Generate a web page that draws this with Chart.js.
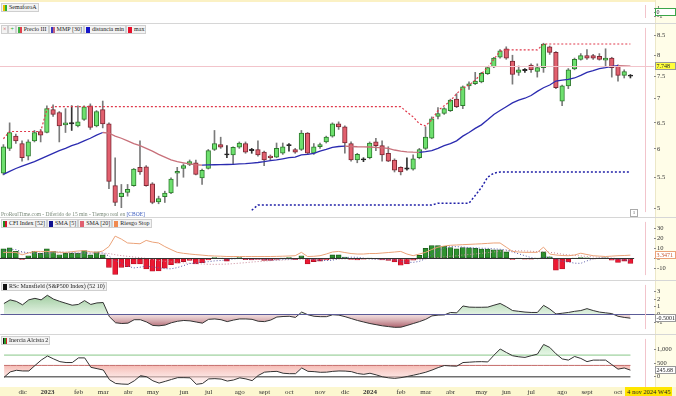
<!DOCTYPE html>
<html>
<head>
<meta charset="utf-8">
<script src="https://cdn.jsdelivr.net/npm/chart.js@4.4.1/dist/chart.umd.min.js"></script>
<style>
  body { margin: 0; width: 676px; height: 396px; overflow: hidden; background: #fff; position: relative; font-family: "Liberation Serif", serif; }
  canvas { position: absolute; left: 0; }
  .axiscol { position: absolute; left: 655px; top: 0; width: 21px; height: 396px; background: #fffde8; border-left: 1px solid #ece7c8; box-sizing: border-box; }
  .xstrip { position: absolute; left: 0; top: 387px; width: 676px; height: 9px; background: #fcf7d0; }
  .topstrip { position: absolute; left: 0; top: 0; width: 676px; height: 2px; background: #fbf1c4; }
  .sep { position: absolute; left: 0; width: 676px; height: 1px; background: #d6d6d6; }
  .legend { position: absolute; left: 1px; display: flex; gap: 0px; font-size: 6px; line-height: 7px; color: #222; }
  .legend span { border: 1px solid #cfcfcf; background: #f3f3f3; padding: 0 1px 0 1px; display: flex; align-items: center; white-space: nowrap; }
  .legend i { display: inline-block; width: 4px; height: 6px; margin-right: 2px; }
  .note { position: absolute; white-space: nowrap; }
</style>
</head>
<body>
<div class="topstrip"></div>
<div class="axiscol"></div>
<div class="xstrip"></div>
<div class="sep" style="top:23px"></div>
<div class="sep" style="top:217px"></div>
<div class="sep" style="top:280px"></div>
<div class="sep" style="top:334px"></div>

<canvas id="cSem" width="676" height="23" style="top:0px"></canvas>
<canvas id="cPrice" width="676" height="194" style="top:23px"></canvas>
<canvas id="cCfi" width="676" height="63" style="top:217px"></canvas>
<canvas id="cRsc" width="676" height="54" style="top:280px"></canvas>
<canvas id="cIner" width="676" height="62" style="top:334px"></canvas>

<div class="legend" style="top:3px"><span><i style="background:linear-gradient(90deg,#e8c000 50%,#30b030 50%)"></i>SemaforoA</span></div>
<div class="legend" style="top:25px">
  <span style="color:#c33">×</span><span style="color:#2a2">+</span>
  <span><i style="background:linear-gradient(90deg,#3cb043 50%,#e0404c 50%)"></i>Precio III</span>
  <span><i style="background:linear-gradient(90deg,#3434c0 50%,#c06080 50%)"></i>MMP [30]</span>
  <span><i style="background:#1616c8"></i>distancia min</span>
  <span><i style="background:#e8102c"></i>max</span>
</div>
<div class="note" style="left:1px;top:211px;font-size:5.5px;color:#7a8a7a">ProRealTime.com - Diferido de 15 min - Tiempo real en <span style="color:#4060c0">[CBOE]</span></div>
<div class="note" style="left:630px;top:209px;width:6px;height:6px;border:1px solid #aaa;font-size:5px;line-height:6px;text-align:center;color:#555">1</div>
<div class="legend" style="top:219px">
  <span><i style="background:linear-gradient(90deg,#1f8a1f 50%,#d8102a 50%)"></i>CFI Index [52]</span>
  <span><i style="background:#101090"></i>SMA [5]</span>
  <span><i style="background:#e06070"></i>SMA [20]</span>
  <span><i style="background:#f08a50"></i>Riesgo Stop</span>
</div>
<div class="legend" style="top:282px"><span><i style="background:#111"></i>RSc Mansfield (S&amp;P500 Index) (52 10)</span></div>
<div class="legend" style="top:336px"><span><i style="background:linear-gradient(90deg,#111 33%,#2a9a2a 33% 66%,#d02020 66%)"></i>Inercia Alcista 2</span></div>
<div class="note" style="left:625px;top:387px;height:9px;padding:0 2px;background:#ffe600;font-size:6.5px;line-height:9px;color:#222">4 nov 2024 W45</div>

<script>
// weekly candles, nov 2022 - oct 2024
const open = [
  5.57, 6.01, 6.24, 6.10, 5.87, 6.15, 6.33, 6.31, 6.77, 6.71,
  6.46, 6.48, 6.44, 6.57, 6.85, 6.44, 6.77, 6.48, 5.36, 5.18,
  5.25, 5.36, 5.67, 5.68, 5.39, 5.10, 5.18, 5.24, 5.57, 5.65,
  5.72, 5.75, 5.49, 5.65, 5.99, 6.08, 5.89, 5.89, 6.03, 6.10,
  5.97, 5.99, 5.94, 5.87, 5.85, 5.92, 6.06, 5.99, 5.99, 6.30,
  5.92, 6.04, 6.13, 6.24, 6.48, 6.42, 6.10, 5.80, 5.80, 5.84,
  6.13, 6.06, 5.92, 5.80, 5.67, 5.64, 5.64, 5.84, 6.01, 6.20,
  6.63, 6.69, 6.75, 6.99, 6.85, 7.28, 7.33, 7.37, 7.56, 7.72,
  7.95, 8.16, 7.86, 7.59, 7.63, 7.76, 7.61, 7.70, 8.21, 8.07,
  6.95, 7.28, 7.67, 7.90, 7.99, 7.99, 7.97, 7.88, 7.93, 7.74,
  7.52, 7.50];
const high = [
  6.08, 6.50, 6.28, 6.15, 6.17, 6.35, 6.37, 6.85, 6.87, 6.73,
  6.79, 6.85, 6.85, 6.85, 6.89, 6.75, 6.95, 6.50, 5.84, 5.38,
  5.38, 5.65, 6.15, 5.70, 5.41, 5.19, 5.27, 5.49, 5.67, 5.73,
  5.80, 5.80, 5.64, 5.99, 6.35, 6.22, 6.06, 6.04, 6.13, 6.13,
  6.01, 6.15, 5.96, 5.89, 6.11, 6.11, 6.10, 6.01, 6.35, 6.31,
  6.10, 6.11, 6.24, 6.50, 6.52, 6.44, 6.13, 5.92, 5.84, 6.13,
  6.20, 6.15, 6.04, 5.82, 5.68, 5.84, 5.89, 6.01, 6.42, 6.62,
  6.81, 6.81, 6.99, 7.11, 7.28, 7.37, 7.59, 7.59, 7.72, 7.95,
  8.14, 8.21, 8.00, 7.74, 7.68, 7.79, 7.79, 8.30, 8.23, 8.09,
  7.30, 7.68, 7.93, 8.04, 8.14, 8.02, 8.04, 8.16, 7.95, 7.77,
  7.65, 7.54];
const low = [
  5.54, 5.97, 6.10, 5.78, 5.80, 6.13, 6.13, 6.30, 6.63, 6.13,
  6.31, 6.35, 6.42, 6.55, 6.37, 6.42, 6.40, 5.31, 5.04, 5.01,
  5.19, 5.35, 5.55, 5.35, 5.07, 5.07, 5.09, 5.23, 5.35, 5.50,
  5.70, 5.54, 5.38, 5.64, 5.97, 6.01, 5.84, 5.72, 6.01, 5.92,
  5.92, 5.87, 5.70, 5.80, 5.84, 5.90, 5.96, 5.92, 5.97, 5.90,
  5.90, 6.01, 6.11, 6.22, 6.37, 5.92, 5.78, 5.75, 5.77, 5.82,
  5.97, 5.78, 5.77, 5.59, 5.54, 5.62, 5.62, 5.82, 5.99, 6.19,
  6.58, 6.67, 6.73, 6.81, 6.79, 7.20, 7.31, 7.35, 7.54, 7.70,
  7.93, 7.90, 7.32, 7.52, 7.59, 7.59, 7.48, 7.59, 8.02, 7.22,
  6.85, 7.22, 7.65, 7.88, 7.90, 7.90, 7.88, 7.74, 7.48, 7.39,
  7.46, 7.46];
const close = [
  6.04, 6.31, 6.15, 5.84, 6.13, 6.31, 6.26, 6.79, 6.67, 6.44,
  6.50, 6.48, 6.52, 6.83, 6.41, 6.73, 6.48, 5.43, 5.09, 5.24,
  5.30, 5.64, 5.59, 5.36, 5.09, 5.15, 5.24, 5.47, 5.60, 5.70,
  5.77, 5.55, 5.62, 5.97, 6.10, 6.03, 5.89, 6.03, 6.11, 5.94,
  5.97, 5.89, 5.80, 5.84, 6.01, 6.04, 6.06, 5.94, 6.30, 5.92,
  6.04, 6.08, 6.22, 6.48, 6.42, 6.11, 5.80, 5.90, 5.80, 6.11,
  6.06, 5.89, 5.78, 5.62, 5.59, 5.64, 5.82, 5.99, 6.22, 6.58,
  6.69, 6.79, 6.97, 6.83, 7.26, 7.33, 7.39, 7.57, 7.70, 7.93,
  8.11, 7.93, 7.54, 7.65, 7.63, 7.65, 7.70, 8.28, 8.07, 7.24,
  7.28, 7.65, 7.90, 7.99, 7.93, 7.93, 7.90, 7.93, 7.70, 7.52,
  7.61, 7.50];
const mmp30 = [
  5.55, 5.60, 5.65, 5.69, 5.73, 5.77, 5.82, 5.87, 5.92, 5.97,
  6.01, 6.06, 6.10, 6.15, 6.20, 6.26, 6.31, 6.30, 6.24, 6.20,
  6.15, 6.10, 6.06, 6.01, 5.96, 5.90, 5.85, 5.80, 5.77, 5.75,
  5.73, 5.715, 5.71, 5.712, 5.715, 5.718, 5.72, 5.722, 5.73, 5.735,
  5.745, 5.755, 5.77, 5.79, 5.80, 5.82, 5.84, 5.85, 5.89, 5.90,
  5.92, 5.96, 5.99, 6.03, 6.045, 6.05, 6.045, 6.04, 6.038, 6.035,
  6.03, 6.02, 6.01, 5.98, 5.96, 5.945, 5.94, 5.938, 5.95, 5.97,
  6.01, 6.06, 6.10, 6.15, 6.24, 6.31, 6.39, 6.46, 6.56, 6.67,
  6.75, 6.83, 6.91, 6.97, 7.01, 7.07, 7.16, 7.24, 7.30, 7.39,
  7.41, 7.43, 7.46, 7.52, 7.59, 7.63, 7.68, 7.70, 7.73, 7.745,
  7.74, 7.735];
const maxLine = [
  6.19, 6.33, 6.33, 6.33, 6.33, 6.33, 6.33, 6.77, 6.83, 6.83,
  6.83, 6.83, 6.83, 6.83, 6.83, 6.83, 6.83, 6.83, 6.83, 6.83,
  6.83, 6.83, 6.83, 6.83, 6.83, 6.83, 6.83, 6.83, 6.83, 6.83,
  6.83, 6.83, 6.83, 6.83, 6.83, 6.83, 6.83, 6.83, 6.83, 6.83,
  6.83, 6.83, 6.83, 6.83, 6.83, 6.83, 6.83, 6.83, 6.83, 6.83,
  6.83, 6.83, 6.83, 6.83, 6.83, 6.83, 6.83, 6.83, 6.83, 6.83,
  6.83, 6.83, 6.83, 6.83, 6.83, 6.72, 6.62, 6.48, 6.44, 6.56,
  6.75, 6.85, 6.95, 7.11, 7.23, 7.30, 7.41, 7.56, 7.70, 7.90,
  8.10, 8.13, 8.13, 8.13, 8.13, 8.13, 8.13, 8.28, 8.28, 8.28,
  8.28, 8.28, 8.28, 8.28, 8.28, 8.28, 8.28, 8.28, 8.28, 8.28,
  8.28, 8.28];
const minLine = [
  null, null, null, null, null, null, null, null, null, null,
  null, null, null, null, null, null, null, null, null, null,
  null, null, null, null, null, null, null, null, null, null,
  null, null, null, null, null, null, null, null, null, null,
  4.97, 5.05, 5.05, 5.05, 5.05, 5.05, 5.05, 5.05, 5.05, 5.05,
  5.05, 5.05, 5.05, 5.05, 5.05, 5.05, 5.05, 5.05, 5.05, 5.05,
  5.05, 5.05, 5.05, 5.05, 5.05, 5.05, 5.05, 5.05, 5.05, 5.05,
  5.08, 5.08, 5.08, 5.08, 5.08, 5.08, 5.20, 5.33, 5.50, 5.57,
  5.59, 5.59, 5.59, 5.59, 5.59, 5.59, 5.59, 5.59, 5.59, 5.59,
  5.59, 5.59, 5.59, 5.59, 5.59, 5.59, 5.59, 5.59, 5.59, 5.59,
  5.59, 5.59];

const cfi = [
  9.7, 10.8, 7.3, -1.0, 2.6, 7.3, 5.1, 9.7, 7.3, 3.8,
  5.3, 5.1, 5.3, 7.9, 3.6, 6.7, 3.6, -8.9, -16.0, -8.9,
  -8.3, -5.4, -5.4, -10.5, -12.8, -12.5, -9.7, -6.3, -4.6, -3.1,
  -2.0, -5.4, -4.3, -1.4, 0.9, 0.3, -2.6, 0.3, 0.9, -1.1,
  -1.4, -0.9, -2.0, -2.0, -0.9, 0.3, 0.9, -1.1, 2.6, -5.4,
  -3.1, -2.6, -1.4, 3.6, 3.6, 1.5, -1.0, -1.5, -0.8, 0.5,
  -0.5, -1.5, -2.0, -3.5, -6.8, -5.4, -1.7, 3.1, 10.3, 13.1,
  13.1, 12.3, 11.1, 9.7, 11.1, 10.8, 10.3, 9.4, 9.4, 8.8,
  8.8, 6.6, -0.9, 0.2, -0.6, -0.6, 0.3, 6.6, 1.7, -11.7,
  -10.5, -3.4, 0.2, 0.9, 0.6, -0.3, 0.3, 0.6, -1.7, -4.0,
  -2.6, -4.9];
const sma5 = [
  8.0, 9.0, 9.0, 6.7, 5.9, 5.4, 4.3, 4.7, 6.4, 6.6,
  6.2, 6.2, 5.4, 5.5, 5.4, 5.7, 5.4, 2.6, -2.2, -4.7,
  -7.7, -9.5, -8.8, -7.7, -8.5, -9.3, -10.2, -10.4, -9.2, -7.2,
  -5.1, -4.3, -3.9, -3.2, -2.4, -2.0, -1.4, -0.5, 0.0, -0.4,
  -0.8, -0.4, -0.9, -1.5, -1.4, -1.1, -0.7, -0.6, 0.4, -0.5,
  -1.2, -1.9, -2.0, -1.8, 0.0, 0.9, 1.3, 1.2, 0.4, -0.3,
  -0.7, -0.8, -0.9, -1.4, -2.9, -3.8, -3.9, -2.9, -0.1, 3.9,
  7.6, 10.4, 12.0, 11.9, 11.5, 11.0, 10.6, 10.3, 10.2, 9.7,
  9.3, 8.6, 6.5, 4.7, 2.8, 0.9, -0.3, 1.2, 1.5, -0.7,
  -2.7, -3.5, -4.7, -4.9, -2.4, -0.4, 0.3, 0.4, -0.1, -1.0,
  -1.5, -2.5];
const sma20 = [
  6.0, 6.0, 5.9, 5.7, 5.6, 5.6, 5.5, 5.6, 5.6, 5.6,
  5.6, 5.5, 5.5, 5.6, 5.5, 5.5, 5.5, 5.0, 3.8, 2.9,
  2.2, 1.5, 0.9, 0.0, -1.0, -2.0, -2.8, -3.4, -4.0, -4.4,
  -4.8, -5.1, -5.5, -5.8, -5.9, -5.8, -5.6, -5.2, -4.7, -4.2,
  -3.6, -3.1, -2.7, -2.2, -1.9, -1.5, -1.2, -1.0, -0.8, -0.9,
  -1.0, -1.0, -1.0, -0.8, -0.6, -0.5, -0.5, -0.5, -0.4, -0.4,
  -0.4, -0.5, -0.5, -0.6, -0.9, -1.1, -1.1, -0.9, -0.4, 0.3,
  1.0, 1.6, 2.2, 2.8, 3.5, 4.0, 4.6, 5.2, 5.9, 6.6,
  7.3, 7.8, 7.9, 7.8, 7.6, 7.3, 6.9, 6.7, 6.3, 5.4,
  4.4, 3.6, 3.1, 2.6, 2.1, 1.6, 1.2, 0.8, 0.4, 0.0,
  -0.6, -1.2];
const riesgo = [
  6.2, 6.2, 6.2, 3.7, 5.5, 7.1, 7.1, 7.1, 6.8, 6.2,
  6.2, 6.8, 7.5, 7.9, 6.8, 6.2, 7.5, 12.0, 22.5, 19.5,
  15.6, 15.2, 14.8, 18.2, 16.5, 15.6, 12.0, 9.0, 6.2, 5.2,
  4.5, 3.9, 3.4, 2.8, 2.5, 2.3, 2.0, 2.0, 2.0, 2.0,
  2.0, 2.0, 2.0, 2.0, 2.1, 2.3, 2.5, 2.8, 6.2, 2.0,
  2.2, 2.8, 4.5, 6.5, 7.1, 6.0, 5.0, 4.5, 4.5, 5.0,
  5.0, 5.5, 6.0, 6.5, 7.1, 4.5, 2.8, 4.5, 6.2, 9.0,
  11.4, 12.5, 13.3, 13.6, 13.9, 14.2, 14.5, 14.8, 15.2, 15.6,
  15.6, 11.4, 7.1, 6.5, 6.2, 6.2, 6.2, 11.4, 4.5, 3.5,
  3.0, 2.8, 3.5, 5.3, 4.0, 2.8, 2.4, 2.0, 2.4, 2.8,
  3.0, 3.3471];

const rsc = [
  1.42, 1.9, 1.7, 1.25, 1.9, 2.1, 1.9, 2.5, 2.0, 1.7,
  1.45, 1.2, 1.3, 1.8, 1.3, 1.5, 1.55, -0.3, -1.1, -1.2,
  -1.15, -0.7, -0.7, -1.0, -1.45, -1.5, -1.4, -1.1, -0.9, -0.8,
  -0.85, -1.0, -1.15, -0.65, -0.6, -0.7, -0.95, -0.75, -0.6, -0.6,
  -0.65, -0.9, -0.95, -0.75, -0.35, -0.28, -0.25, -0.4, 0.3, -0.05,
  -0.25, -0.3, -0.3, -0.05, -0.1, -0.3, -0.55, -0.8, -1.0, -1.2,
  -1.35, -1.5, -1.6, -1.7, -1.68, -1.45, -1.2, -0.95, -0.65, -0.2,
  -0.1, -0.07, 0.25, 0.2, 1.1, 0.95, 0.93, 0.93, 0.95, 1.2,
  1.43, 1.0, 0.5, 0.4, 0.3, 0.25, 0.25, 1.18, 0.7, 0.05,
  0.15, 0.25, 0.4, 0.5, 0.75, 0.5, 0.3, 0.2, 0.1, -0.25,
  -0.4, -0.5001];

const inercia = [
  -20, 180, 240, 215, 215, 420, 620, 770, 660, 560,
  527, 527, 700, 700, 350, 300, 250, -110, -250, -270,
  -280, -150, 40, 0, -150, -235, -170, -100, -33, -33,
  -40, -280, -250, -80, -70, -87, -160, -120, -40, -80,
  -144, 50, 170, 190, 200, 130, 114, 114, 326, 201,
  190, 165, 170, 200, 215, 210, 190, 120, 90, 130,
  70, 0, -40, -60, -33, 10, 57, 110, 168, 248,
  340, 416, 400, 393, 527, 540, 555, 560, 550, 800,
  1030, 900, 780, 740, 718, 780, 839, 1198, 1087, 850,
  661, 617, 752, 680, 560, 617, 617, 617, 450, 282,
  326, 245.68];
const inerciaHigh = 800;
const inerciaMid = 420;
const inerciaLow = 0;

// x axis: week index, month labels
const monthIdx = [3, 7, 12, 16, 20, 24, 29, 33, 38, 42, 46, 51, 55, 59, 64, 68, 72, 77, 81, 85, 90, 94, 99];
const monthText = ["dic", "2023", "feb", "mar", "abr", "may", "jun", "jul", "ago", "sept", "oct", "nov",
                   "dic", "2024", "feb", "mar", "abr", "may", "jun", "jul", "ago", "sept", "oct"];
const cursorIndex = 103.35;
const crossPrice = 7.748;

const priceTicks = [5, 5.5, 6, 6.5, 7, 7.5, 8, 8.5];
const cfiTicks = [30, 20, 10, 0, -10];
const rscTicks = [3, 2, 1, 0, -1];
const inerTicks = [1000, 500, 0];
const semTicks = [1, 0, -1];

Chart.defaults.font.family = "Liberation Serif";
Chart.defaults.font.size = 6.5;
Chart.defaults.color = "#333";
Chart.defaults.plugins.legend.display = false;
Chart.defaults.plugins.tooltip.enabled = false;

const idx = close.map((v, i) => i);
const pts = arr => arr.map((v, i) => ({ x: i, y: v }));

const deco = {
  id: "deco",
  afterDatasetsDraw(chart, args, o) {
    const ctx = chart.ctx, a = chart.chartArea, x = chart.scales.x, y = chart.scales.y;
    ctx.save();
    (o.lines || []).forEach(l => {
      const py = Math.round(y.getPixelForValue(l.value)) + 0.5;
      const x2 = l.to !== undefined ? x.getPixelForValue(l.to) : a.right;
      ctx.strokeStyle = l.color;
      ctx.lineWidth = l.width || 1;
      ctx.beginPath(); ctx.moveTo(a.left, py); ctx.lineTo(x2, py); ctx.stroke();
    });
    const cx = Math.round(x.getPixelForValue(cursorIndex)) + 0.5;
    ctx.strokeStyle = "#f2c4cb"; ctx.lineWidth = 1;
    ctx.beginPath(); ctx.moveTo(cx, a.top); ctx.lineTo(cx, a.bottom); ctx.stroke();
    if (o.tag) {
      const t = o.tag, ty = Math.round(y.getPixelForValue(t.value));
      const w = chart.width - a.right - 1;
      ctx.fillStyle = t.bg;
      ctx.fillRect(a.right + 1, ty - 4, w, 8);
      ctx.strokeStyle = t.border;
      ctx.strokeRect(a.right + 1.5, ty - 3.5, w - 1, 7);
      ctx.fillStyle = t.color || "#222";
      ctx.font = "6px 'Liberation Serif'";
      ctx.textBaseline = "middle";
      ctx.fillText(t.text, a.right + 2.5, ty + 0.5);
    }
    ctx.restore();
  }
};
Chart.register(deco);

function monthLabel(v) {
  const k = monthIdx.indexOf(v);
  return k < 0 ? "" : monthText[k];
}

function xAxis(show) {
  const ax = {
    type: "linear", min: -0.55, max: 104.8, offset: false, bounds: "data", display: show,
    afterBuildTicks: s => { s.ticks = monthIdx.map(v => ({ value: v })); },
    grid: { display: false, drawTicks: false },
    border: { display: false },
    ticks: {
      autoSkip: false, maxRotation: 0, padding: 1, color: "#333",
      callback: v => monthLabel(v),
      font: c => ({ family: "Liberation Serif", size: 7,
        weight: (c.tick && /^\d/.test(monthLabel(c.tick.value))) ? "bold" : "normal" })
    }
  };
  if (show) ax.afterFit = s => { s.height = 9; };
  return ax;
}

function yAxis(type, min, max, ticks, fmt) {
  return {
    type: type, position: "right", min: min, max: max, bounds: "data", grace: 0,
    afterFit: s => { s.width = 22; },
    afterBuildTicks: s => { s.ticks = ticks.map(v => ({ value: v })); },
    afterDataLimits: s => { s.min = min; s.max = max; },
    grid: { drawOnChartArea: false, drawTicks: true, tickLength: 2, color: "#8a8a8a" },
    border: { display: false },
    ticks: { autoSkip: false, padding: 1, color: "#333", font: { size: 6.5 }, callback: fmt || (v => String(v)) }
  };
}

const base = { responsive: false, animation: false, devicePixelRatio: 1, layout: { padding: 0 } };

// SemaforoA
new Chart("cSem", {
  type: "line",
  data: { datasets: [{ data: [{ x: 0, y: null }] }] },
  options: Object.assign({}, base, {
    scales: { x: xAxis(false), y: yAxis("linear", -1.33, 1.73, semTicks) },
    plugins: { deco: { tag: { value: 0, text: "0", bg: "#fff", border: "#3aa64a" } } }
  })
});

// Precio
new Chart("cPrice", {
  type: "bar",
  data: {
    datasets: [
      { type: "bar", data: idx.map(i => ({ x: i, y: [low[i], high[i]] })),
        backgroundColor: idx.map(i => open[i] === close[i] ? "#333" : "#7a7a7a"),
        barThickness: 1, grouped: false, order: 5 },
      { type: "bar", data: idx.map(i => ({ x: i, y: [open[i], close[i]] })),
        backgroundColor: idx.map(i => close[i] > open[i] ? "#6ee06e" : close[i] < open[i] ? "#e2606e" : "#222"),
        borderColor: idx.map(i => close[i] > open[i] ? "#2d7a2d" : close[i] < open[i] ? "#7c2834" : "#222"),
        borderWidth: 1, borderSkipped: false, barThickness: 4.6, minBarLength: 1.2, grouped: false, order: 4 },
      { type: "line", data: pts(mmp30), borderColor: "#2b2bb0", borderWidth: 1.3, pointRadius: 0, order: 1,
        segment: { borderColor: c => c.p1.parsed.y < c.p0.parsed.y ? "#c8707a" : "#2b2bb0" } },
      { type: "line", data: pts(maxLine), borderColor: "#e03a4c", borderWidth: 1.2, borderDash: [2, 2], pointRadius: 0, order: 2 },
      { type: "line", data: pts(minLine), borderColor: "#2020a8", borderWidth: 1.5, borderDash: [2, 2], pointRadius: 0, order: 2 }
    ]
  },
  options: Object.assign({}, base, {
    scales: { x: xAxis(false), y: yAxis("logarithmic", 4.942, 8.70, priceTicks) },
    plugins: { deco: {
      lines: [{ value: crossPrice, color: "#f2c4cb" }],
      tag: { value: crossPrice, text: "7.748", bg: "#ffff3c", border: "#999" } } }
  })
});

// CFI Index
new Chart("cCfi", {
  type: "bar",
  data: {
    datasets: [
      { type: "line", data: pts(riesgo), borderColor: "#eba278", borderWidth: 1, pointRadius: 0, order: 1 },
      { type: "line", data: pts(sma5), borderColor: "#5a5aa8", borderWidth: 1, borderDash: [1, 2], pointRadius: 0, order: 2 },
      { type: "line", data: pts(sma20), borderColor: "#c88898", borderWidth: 1, borderDash: [1, 2], pointRadius: 0, order: 2 },
      { type: "bar", data: pts(cfi),
        backgroundColor: cfi.map(v => v >= 0 ? "#2f922f" : "#ec1832"),
        borderColor: cfi.map(v => v >= 0 ? "#1b5a1b" : "#b40e22"),
        borderWidth: 0.8, borderSkipped: false, barThickness: 5, grouped: false, order: 3 }
    ]
  },
  options: Object.assign({}, base, {
    scales: { x: xAxis(false), y: yAxis("linear", -16.7, 36.8, cfiTicks) },
    plugins: { deco: {
      lines: [{ value: 0, color: "#333", to: 101.6 }],
      tag: { value: riesgo[riesgo.length - 1], text: "3.3471", bg: "#fff", border: "#eba278", color: "#c85a30" } } }
  })
});

// RSc Mansfield
const rscChart = new Chart("cRsc", {
  type: "line",
  data: { datasets: [{ data: pts(rsc), borderColor: "#333", borderWidth: 1, pointRadius: 0, fill: false }] },
  options: Object.assign({}, base, {
    scales: { x: xAxis(false), y: yAxis("linear", -1.93, 3.86, rscTicks) },
    plugins: { deco: {
      lines: [{ value: 0, color: "#5c5c98", width: 1.2 }],
      tag: { value: rsc[rsc.length - 1], text: "-0.5001", bg: "#fff", border: "#999" } } }
  })
});
{
  const c = rscChart, y0 = c.scales.y.getPixelForValue(0);
  const gUp = c.ctx.createLinearGradient(0, c.chartArea.top, 0, y0);
  gUp.addColorStop(0, "rgba(80,160,80,0.8)");
  gUp.addColorStop(1, "rgba(205,232,205,0.6)");
  const gDn = c.ctx.createLinearGradient(0, y0, 0, c.chartArea.bottom);
  gDn.addColorStop(0, "rgba(235,205,205,0.6)");
  gDn.addColorStop(1, "rgba(150,55,70,0.9)");
  c.data.datasets[0].fill = { target: { value: 0 }, above: gUp, below: gDn };
  c.update("none");
}

// Inercia Alcista 2
const inerChart = new Chart("cIner", {
  type: "line",
  data: {
    datasets: [
      { data: pts(inercia), borderColor: "#333", borderWidth: 1, pointRadius: 0, fill: false, order: 1 },
      { data: pts(inercia), borderWidth: 0, pointRadius: 0, fill: false, order: 2 },
      { data: idx.map(i => ({ x: i, y: inerciaHigh })), borderColor: "#9ccf9c", borderWidth: 1.3, pointRadius: 0, order: 3 },
      { data: idx.map(i => ({ x: i, y: inerciaMid })), borderColor: "#b85a5a", borderWidth: 1, pointRadius: 0, order: 3 },
      { data: idx.map(i => ({ x: i, y: inerciaLow })), borderColor: "#707070", borderWidth: 1.3, pointRadius: 0, order: 3 }
    ]
  },
  options: Object.assign({}, base, {
    scales: { x: xAxis(true), y: yAxis("linear", -380, 1404, inerTicks, v => v.toLocaleString("en-US")) },
    plugins: { deco: { tag: { value: inercia[inercia.length - 1], text: "245.68", bg: "#fff", border: "#999" } } }
  })
});
{
  const c = inerChart, yMid = c.scales.y.getPixelForValue(inerciaMid), yHigh = c.scales.y.getPixelForValue(inerciaHigh);
  const gPink = c.ctx.createLinearGradient(0, yMid, 0, c.chartArea.bottom);
  gPink.addColorStop(0, "rgba(244,176,168,0.85)");
  gPink.addColorStop(1, "rgba(255,240,240,0.4)");
  const gGreen = c.ctx.createLinearGradient(0, c.chartArea.top, 0, yHigh);
  gGreen.addColorStop(0, "rgba(160,215,160,0.9)");
  gGreen.addColorStop(1, "rgba(215,240,215,0.6)");
  c.data.datasets[0].fill = { target: { value: inerciaMid }, above: "rgba(0,0,0,0)", below: gPink };
  c.data.datasets[1].fill = { target: { value: inerciaHigh }, above: gGreen, below: "rgba(0,0,0,0)" };
  c.update("none");
}
</script>
</body>
</html>
